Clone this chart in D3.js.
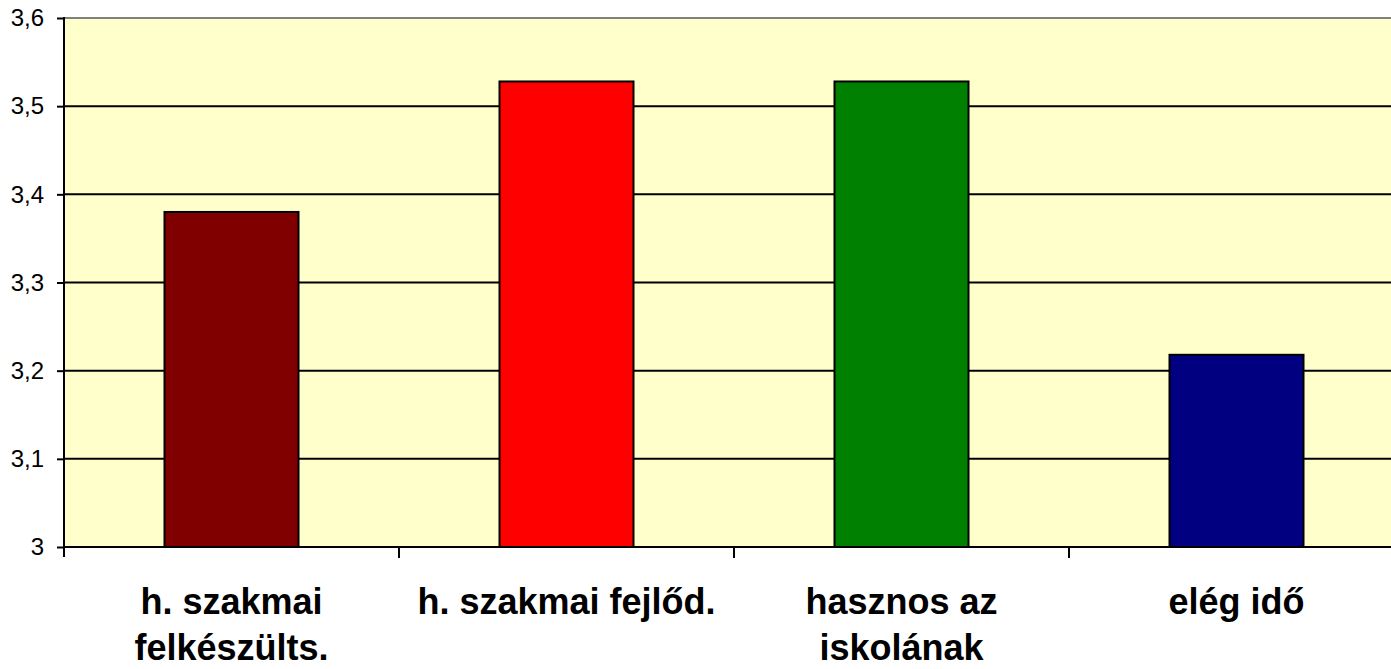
<!DOCTYPE html>
<html>
<head>
<meta charset="utf-8">
<script src="https://cdn.jsdelivr.net/npm/d3@7"></script>
<style>
  html, body { margin: 0; padding: 0; background: #fff; overflow: hidden; }
  svg { display: block; font-family: Arial, "Liberation Sans", sans-serif; }
</style>
</head>
<body>
<div id="chart"></div>
<script>
// chart data
const categories = [["h. szakmai", "felkészülts."], ["h. szakmai fejlőd."], ["hasznos az", "iskolának"], ["elég idő"]];
const values = [3.38, 3.528, 3.528, 3.218];
const barColors = ["#800000", "#FF0000", "#008000", "#000080"];
const yTicks = [3, 3.1, 3.2, 3.3, 3.4, 3.5, 3.6];

const width = 1391;
const height = 669;
const plotLeft = 64, plotRight = 1404, plotTop = 18, plotBottom = 547;

const svg = d3.select("#chart").append("svg")
    .attr("width", width)
    .attr("height", height);

const x = d3.scaleBand()
    .domain(d3.range(categories.length))
    .range([plotLeft, plotRight])
    .paddingInner(0.6)
    .paddingOuter(0.3);

const y = d3.scaleLinear()
    .domain([3, 3.6])
    .range([plotBottom, plotTop]);

// plot background
svg.append("rect")
    .attr("x", plotLeft)
    .attr("y", plotTop)
    .attr("width", plotRight - plotLeft)
    .attr("height", plotBottom - plotTop)
    .attr("fill", "#FFFFCC");

// top border
svg.append("line")
    .attr("x1", plotLeft).attr("x2", plotRight)
    .attr("y1", plotTop).attr("y2", plotTop)
    .attr("stroke", "#808080")
    .attr("stroke-width", 2);

// gridlines
svg.append("g")
  .selectAll("line")
  .data(yTicks.slice(1, -1))
  .join("line")
    .attr("x1", plotLeft).attr("x2", plotRight)
    .attr("y1", d => y(d)).attr("y2", d => y(d))
    .attr("stroke", "#000")
    .attr("stroke-width", 2);

// bars
svg.append("g")
  .selectAll("rect")
  .data(values)
  .join("rect")
    .attr("x", (d, i) => x(i))
    .attr("y", d => y(d))
    .attr("width", x.bandwidth())
    .attr("height", d => plotBottom - y(d))
    .attr("fill", (d, i) => barColors[i])
    .attr("stroke", "#000")
    .attr("stroke-width", 2);

// y axis
const yAxis = svg.append("g")
    .attr("transform", `translate(${plotLeft},0)`)
    .call(d3.axisLeft(y)
        .tickValues(yTicks)
        .tickSize(7)
        .tickPadding(13)
        .tickFormat(d => d3.format(".1~f")(d).replace(".", ",")));
yAxis.select(".domain").remove();
yAxis.selectAll(".tick line").attr("stroke", "#000").attr("stroke-width", 2);
yAxis.selectAll(".tick text")
    .attr("font-size", 24)
    .attr("font-family", "Arial, 'Liberation Sans', sans-serif")
    .attr("fill", "#000");

svg.append("line")
    .attr("x1", plotLeft).attr("x2", plotLeft)
    .attr("y1", plotTop - 1).attr("y2", plotBottom + 10)
    .attr("stroke", "#000")
    .attr("stroke-width", 2);

// x axis line and ticks between categories
svg.append("line")
    .attr("x1", plotLeft).attr("x2", plotRight)
    .attr("y1", plotBottom).attr("y2", plotBottom)
    .attr("stroke", "#000")
    .attr("stroke-width", 2);

svg.append("g")
  .selectAll("line")
  .data(d3.range(1, categories.length))
  .join("line")
    .attr("x1", i => x(i) - x.step() * x.paddingInner() / 2)
    .attr("x2", i => x(i) - x.step() * x.paddingInner() / 2)
    .attr("y1", plotBottom).attr("y2", plotBottom + 11)
    .attr("stroke", "#000")
    .attr("stroke-width", 2);

// category labels
const labels = svg.append("g")
  .selectAll("text")
  .data(categories)
  .join("text")
    .attr("x", (d, i) => x(i) + x.bandwidth() / 2)
    .attr("y", 614)
    .attr("text-anchor", "middle")
    .attr("font-size", 36)
    .attr("font-weight", "bold")
    .attr("fill", "#000");

labels.selectAll("tspan")
  .data(d => d)
  .join("tspan")
    .attr("x", function() { return this.parentNode.getAttribute("x"); })
    .attr("dy", (d, i) => i === 0 ? 0 : 46)
    .text(d => d);
</script>
</body>
</html>
